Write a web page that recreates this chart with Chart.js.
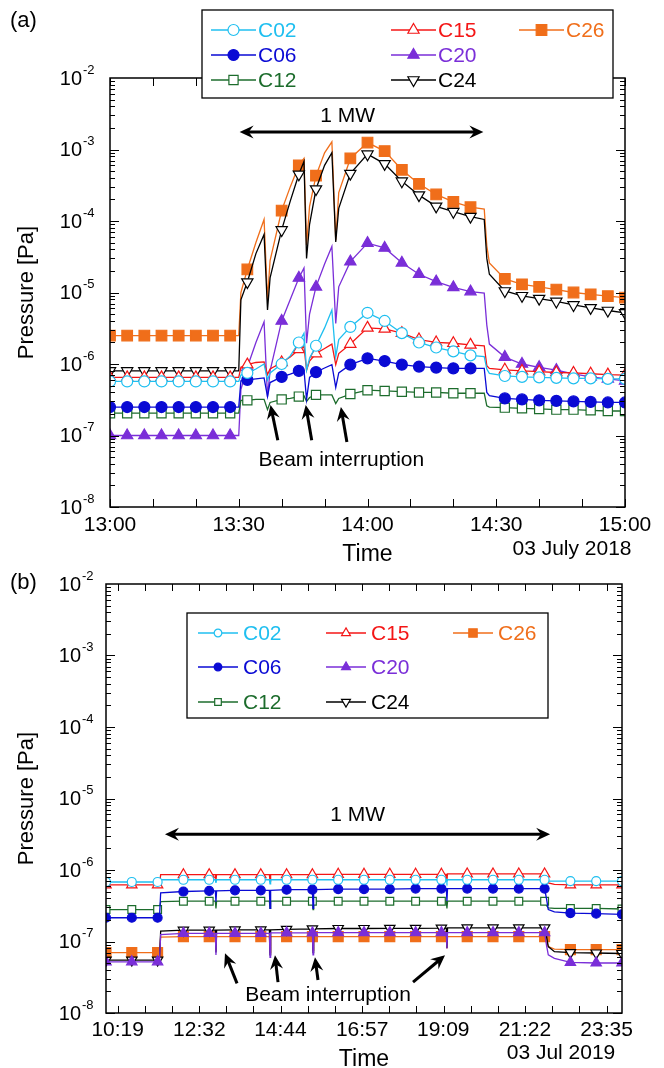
<!DOCTYPE html>
<html>
<head>
<meta charset="utf-8">
<script src="https://cdn.jsdelivr.net/npm/chart.js@4.4.1/dist/chart.umd.min.js"></script>
<style>
  html, body { margin: 0; padding: 0; background: #fff; overflow: hidden; }
  #wrap { position: relative; width: 664px; height: 1068px; }
  canvas { position: absolute; left: 0; }
  #panelA { top: 0; }
  #panelB { top: 560px; }
</style>
</head>
<body>
<div id="wrap">
  <canvas id="panelA" width="664" height="570"></canvas>
  <canvas id="panelB" width="664" height="520"></canvas>
</div>
<script>
// ---- 2018 run, time in minutes after midnight (13:00 - 15:00) ----
const timesA = [780, 784, 788, 792, 796, 800, 804, 808, 810, 810.5, 812, 814, 815.9, 816.7, 817.3,
  820, 822, 824, 825.2, 825.8, 826.5, 828, 830, 831.7, 832.6, 833.3, 836, 840, 844, 848, 852, 856,
  860, 864, 867.2, 867.8, 868.4, 872, 876, 880, 884, 888, 892, 896, 900];
const xTicksA = [780, 810, 840, 870, 900];
const xLabelsA = ['13:00', '13:30', '14:00', '14:30', '15:00'];

const c02A = [5.7e-7, 5.7e-7, 5.7e-7, 5.7e-7, 5.7e-7, 5.7e-7, 5.7e-7, 5.7e-7, 5.7e-7,
  7.0e-7, 7.5e-7, 8.5e-7, 1.0e-6, 6.0e-7, 7.5e-7, 1.0e-6, 1.3e-6, 2.0e-6, 2.7e-6, 8.2e-7, 1.2e-6,
  1.8e-6, 3.2e-6, 5.7e-6, 1.27e-6, 2.2e-6, 3.3e-6, 5.2e-6, 4.0e-6, 2.7e-6, 2.0e-6, 1.7e-6, 1.5e-6, 1.32e-6,
  1.27e-6, 8.5e-7, 7.4e-7, 6.8e-7, 6.6e-7, 6.5e-7, 6.4e-7, 6.3e-7, 6.3e-7, 6.2e-7, 6.2e-7];
const c06A = [2.5e-7, 2.5e-7, 2.5e-7, 2.5e-7, 2.5e-7, 2.5e-7, 2.5e-7, 2.5e-7, 2.5e-7,
  5.8e-7, 6.0e-7, 6.2e-7, 6.4e-7, 3.5e-7, 5.5e-7, 6.6e-7, 7.2e-7, 8.0e-7, 8.2e-7, 3.2e-7, 6.5e-7,
  7.7e-7, 8.8e-7, 9.8e-7, 4.7e-7, 7.5e-7, 9.8e-7, 1.2e-6, 1.1e-6, 9.8e-7, 9.2e-7, 8.9e-7, 8.7e-7, 8.7e-7,
  8.7e-7, 4.0e-7, 3.6e-7, 3.3e-7, 3.2e-7, 3.1e-7, 3.05e-7, 3.0e-7, 2.95e-7, 2.9e-7, 2.9e-7];
const c12A = [2.05e-7, 2.05e-7, 2.05e-7, 2.05e-7, 2.05e-7, 2.05e-7, 2.05e-7, 2.05e-7, 2.05e-7,
  3.1e-7, 3.1e-7, 3.2e-7, 3.2e-7, 2.3e-7, 2.9e-7, 3.2e-7, 3.3e-7, 3.5e-7, 3.6e-7, 3.0e-7, 3.4e-7,
  3.7e-7, 3.7e-7, 3.7e-7, 2.8e-7, 3.3e-7, 3.8e-7, 4.3e-7, 4.2e-7, 4.1e-7, 4.0e-7, 4.0e-7, 3.9e-7, 3.9e-7,
  3.9e-7, 2.6e-7, 2.5e-7, 2.45e-7, 2.4e-7, 2.35e-7, 2.3e-7, 2.3e-7, 2.25e-7, 2.2e-7, 2.2e-7];
const c15A = [6.5e-7, 6.5e-7, 6.5e-7, 6.5e-7, 6.5e-7, 6.5e-7, 6.5e-7, 6.5e-7, 6.5e-7,
  9.0e-7, 9.8e-7, 1.05e-6, 1.07e-6, 7.1e-7, 8.5e-7, 1.05e-6, 1.25e-6, 1.6e-6, 1.76e-6, 8.2e-7, 1.1e-6,
  1.4e-6, 1.65e-6, 1.9e-6, 9.8e-7, 1.4e-6, 1.9e-6, 3.2e-6, 3.1e-6, 2.7e-6, 2.2e-6, 2.0e-6, 1.95e-6, 1.85e-6,
  1.8e-6, 9.5e-7, 8.7e-7, 8.3e-7, 8.0e-7, 7.8e-7, 7.6e-7, 7.5e-7, 7.3e-7, 7.1e-7, 7.0e-7];
const c20A = [1.0e-7, 1.0e-7, 1.0e-7, 1.0e-7, 1.0e-7, 1.0e-7, 1.0e-7, 1.0e-7, 1.0e-7,
  4.4e-7, 9.0e-7, 2.0e-6, 3.9e-6, 3.5e-7, 8.0e-7, 4.0e-6, 8.0e-6, 1.6e-5, 2.2e-5, 1.95e-6, 5.0e-6,
  1.2e-5, 2.5e-5, 4.4e-5, 3.7e-6, 1.2e-5, 2.7e-5, 4.9e-5, 4.2e-5, 2.6e-5, 1.8e-5, 1.42e-5, 1.18e-5, 1.03e-5,
  9.8e-6, 3.5e-6, 1.9e-6, 1.25e-6, 1.0e-6, 9.0e-7, 8.2e-7, 7.3e-7, 6.6e-7, 6.2e-7, 5.8e-7];
const c24A = [8.0e-7, 8.0e-7, 8.0e-7, 8.0e-7, 8.0e-7, 8.0e-7, 8.0e-7, 8.0e-7, 8.0e-7,
  7.9e-6, 1.4e-5, 3.5e-5, 6.5e-5, 5.7e-6, 1.6e-5, 7.5e-5, 1.9e-4, 4.5e-4, 6.8e-4, 3.0e-5, 9.0e-5,
  2.8e-4, 6.0e-4, 9.0e-4, 5.1e-5, 1.5e-4, 4.6e-4, 8.6e-4, 6.3e-4, 3.6e-4, 2.3e-4, 1.6e-4, 1.35e-4, 1.15e-4,
  1.05e-4, 3.0e-5, 1.8e-5, 1.05e-5, 9.0e-6, 8.2e-6, 7.5e-6, 6.7e-6, 6.1e-6, 5.6e-6, 5.2e-6];
const c26A = [2.5e-6, 2.5e-6, 2.5e-6, 2.5e-6, 2.5e-6, 2.5e-6, 2.5e-6, 2.5e-6, 2.5e-6,
  1.0e-5, 2.1e-5, 5.0e-5, 1.05e-4, 8.0e-6, 2.8e-5, 1.4e-4, 3.0e-4, 6.0e-4, 7.5e-4, 4.6e-5, 1.6e-4,
  4.3e-4, 9.0e-4, 1.28e-3, 5.4e-5, 2.5e-4, 7.5e-4, 1.25e-3, 9.5e-4, 5.2e-4, 3.3e-4, 2.35e-4, 1.85e-4, 1.56e-4,
  1.47e-4, 4.5e-5, 2.6e-5, 1.55e-5, 1.3e-5, 1.2e-5, 1.1e-5, 1.0e-5, 9.4e-6, 8.9e-6, 8.5e-6];

// ---- 2019 run, time in minutes after midnight (10:00 - 24:00) ----
const timesB = [600, 642, 684, 687, 689, 726, 768, 778, 779, 780, 810, 852, 866, 867, 868, 894, 936,
  937, 938, 978, 1020, 1062, 1104, 1146, 1154, 1155, 1156, 1188, 1230, 1272, 1314, 1317, 1320, 1330,
  1356, 1398, 1440];
const xTicksB = [619, 752, 884, 1017, 1149, 1282, 1415];
const xLabelsB = ['10:19', '12:32', '14:44', '16:57', '19:09', '21:22', '23:35'];

const c02B = [6.8e-7, 6.8e-7, 6.8e-7, 6.8e-7, 7.3e-7, 7.3e-7, 7.3e-7, 7.3e-7, 6.6e-7, 7.3e-7, 7.3e-7,
  7.3e-7, 7.3e-7, 6.4e-7, 7.3e-7, 7.3e-7, 7.3e-7, 6.6e-7, 7.3e-7, 7.3e-7, 7.3e-7, 7.3e-7, 7.3e-7, 7.3e-7,
  7.3e-7, 6.8e-7, 7.3e-7, 7.3e-7, 7.3e-7, 7.3e-7, 7.3e-7, 7.2e-7, 7.0e-7, 7.0e-7, 7.0e-7, 7.0e-7, 7.0e-7];
const c06B = [2.15e-7, 2.15e-7, 2.15e-7, 2.15e-7, 4.8e-7, 5.0e-7, 5.1e-7, 5.1e-7, 3.6e-7, 5.1e-7, 5.2e-7,
  5.2e-7, 5.2e-7, 2.9e-7, 5.2e-7, 5.3e-7, 5.3e-7, 2.9e-7, 5.3e-7, 5.4e-7, 5.4e-7, 5.4e-7, 5.5e-7, 5.5e-7,
  5.5e-7, 3.7e-7, 5.5e-7, 5.5e-7, 5.5e-7, 5.5e-7, 5.5e-7, 4.0e-7, 2.8e-7, 2.6e-7, 2.5e-7, 2.45e-7, 2.4e-7];
const c12B = [2.8e-7, 2.8e-7, 2.8e-7, 2.8e-7, 3.6e-7, 3.66e-7, 3.66e-7, 3.66e-7, 2.9e-7, 3.66e-7, 3.66e-7,
  3.66e-7, 3.66e-7, 2.9e-7, 3.66e-7, 3.66e-7, 3.66e-7, 2.8e-7, 3.66e-7, 3.66e-7, 3.66e-7, 3.66e-7, 3.66e-7,
  3.66e-7, 3.66e-7, 2.9e-7, 3.66e-7, 3.66e-7, 3.66e-7, 3.66e-7, 3.66e-7, 3.2e-7, 2.95e-7, 2.9e-7, 2.9e-7,
  2.9e-7, 2.85e-7];
const c15B = [6.2e-7, 6.2e-7, 6.2e-7, 6.2e-7, 8.6e-7, 8.6e-7, 8.6e-7, 8.6e-7, 7.2e-7, 8.6e-7, 8.6e-7,
  8.6e-7, 8.6e-7, 7.0e-7, 8.6e-7, 8.6e-7, 8.6e-7, 7.5e-7, 8.7e-7, 8.7e-7, 8.7e-7, 8.7e-7, 8.7e-7, 8.7e-7,
  8.7e-7, 7.4e-7, 8.8e-7, 8.8e-7, 8.8e-7, 8.8e-7, 8.8e-7, 8.0e-7, 6.6e-7, 6.3e-7, 6.2e-7, 6.2e-7, 6.2e-7];
const c20B = [5.2e-8, 5.2e-8, 5.2e-8, 5.2e-8, 1.25e-7, 1.3e-7, 1.3e-7, 1.3e-7, 6.5e-8, 1.3e-7, 1.3e-7,
  1.3e-7, 1.3e-7, 6.0e-8, 1.32e-7, 1.32e-7, 1.32e-7, 6.5e-8, 1.33e-7, 1.33e-7, 1.33e-7, 1.33e-7, 1.33e-7,
  1.33e-7, 1.33e-7, 8.0e-8, 1.33e-7, 1.33e-7, 1.33e-7, 1.33e-7, 1.33e-7, 9.0e-8, 6.5e-8, 5.8e-8, 5.1e-8,
  5.0e-8, 5.0e-8];
const c24B = [5.5e-8, 5.5e-8, 5.5e-8, 5.5e-8, 1.4e-7, 1.44e-7, 1.44e-7, 1.44e-7, 7.0e-8, 1.44e-7, 1.45e-7,
  1.45e-7, 1.45e-7, 6.5e-8, 1.45e-7, 1.48e-7, 1.5e-7, 7.0e-8, 1.5e-7, 1.52e-7, 1.52e-7, 1.53e-7, 1.53e-7,
  1.54e-7, 1.55e-7, 8.1e-8, 1.55e-7, 1.55e-7, 1.55e-7, 1.55e-7, 1.55e-7, 1.2e-7, 8.5e-8, 7.2e-8, 7.0e-8,
  6.9e-8, 6.8e-8];
const c26B = [7.0e-8, 7.0e-8, 7.0e-8, 7.0e-8, 1.15e-7, 1.17e-7, 1.17e-7, 1.17e-7, 7.5e-8, 1.17e-7, 1.17e-7,
  1.17e-7, 1.17e-7, 7.0e-8, 1.17e-7, 1.17e-7, 1.17e-7, 7.5e-8, 1.17e-7, 1.17e-7, 1.17e-7, 1.17e-7, 1.17e-7,
  1.17e-7, 1.17e-7, 8.0e-8, 1.17e-7, 1.17e-7, 1.17e-7, 1.17e-7, 1.17e-7, 1.0e-7, 8.5e-8, 7.8e-8, 7.7e-8,
  7.7e-8, 7.7e-8];

const seriesNames = ['C02', 'C06', 'C12', 'C15', 'C20', 'C24', 'C26'];
const yDecades = [-8, -7, -6, -5, -4, -3, -2];

const FONT = "'Liberation Sans', Arial, Helvetica, sans-serif";
Chart.defaults.font.family = FONT;
Chart.defaults.color = '#000';

// marker look per gauge: [radius in top panel, radius in bottom panel]
const styles = {
  C02: { color: '#1fbff0', shape: 'circle',   filled: false, rot: 0,   r: [5.5, 4.5] },
  C06: { color: '#0a0ad4', shape: 'circle',   filled: true,  rot: 0,   r: [5.5, 4.5] },
  C12: { color: '#1c6c2c', shape: 'rect',     filled: false, rot: 0,   r: [6.5, 5.5] },
  C15: { color: '#f41616', shape: 'triangle', filled: false, rot: 0,   r: [6.5, 6] },
  C20: { color: '#7a2ed8', shape: 'triangle', filled: true,  rot: 0,   r: [6.5, 6] },
  C24: { color: '#000000', shape: 'triangle', filled: false, rot: 180, r: [6.5, 6] },
  C26: { color: '#f06e1a', shape: 'rect',     filled: true,  rot: 0,   r: [7.5, 7] }
};

function makeDatasets(times, columns, panel, origin, every) {
  return seriesNames.map((name, i) => {
    const st = styles[name];
    return {
      label: name,
      data: times.map((t, k) => ({ x: t, y: columns[i][k] })),
      borderColor: st.color,
      borderWidth: 1.3,
      pointStyle: st.shape,
      pointRotation: st.rot,
      pointBorderColor: st.color,
      pointBackgroundColor: st.filled ? st.color : '#ffffff',
      pointBorderWidth: 1.2,
      pointRadius: ctx => {
        const t = times[ctx.dataIndex];
        return Number.isInteger(t) && (t - origin) % every === 0 ? st.r[panel] : 0;
      },
      tension: 0
    };
  });
}

// small marker for the legend box
function drawMarker(ctx, st, x, y, r) {
  ctx.save();
  ctx.translate(x, y);
  ctx.rotate(st.rot * Math.PI / 180);
  ctx.beginPath();
  if (st.shape === 'circle') {
    ctx.arc(0, 0, r, 0, Math.PI * 2);
  } else if (st.shape === 'rect') {
    const s = r * Math.SQRT1_2;
    ctx.rect(-s, -s, 2 * s, 2 * s);
  } else {
    ctx.moveTo(0, -r);
    ctx.lineTo(r * 0.866, r * 0.5);
    ctx.lineTo(-r * 0.866, r * 0.5);
    ctx.closePath();
  }
  ctx.fillStyle = st.filled ? st.color : '#fff';
  ctx.strokeStyle = st.color;
  ctx.lineWidth = 1.2;
  ctx.fill();
  ctx.stroke();
  ctx.restore();
}

function arrowHead(ctx, x, y, ang, len, half) {
  ctx.save();
  ctx.translate(x, y);
  ctx.rotate(ang);
  ctx.beginPath();
  ctx.moveTo(0, 0);
  ctx.lineTo(-len, -half);
  ctx.lineTo(-len * 0.65, 0);
  ctx.lineTo(-len, half);
  ctx.closePath();
  ctx.fill();
  ctx.restore();
}

function arrow(ctx, x0, y0, x1, y1, both) {
  const ang = Math.atan2(y1 - y0, x1 - x0);
  const cut = 8;
  ctx.lineWidth = 3;
  ctx.beginPath();
  ctx.moveTo(both ? x0 + Math.cos(ang) * cut : x0, both ? y0 + Math.sin(ang) * cut : y0);
  ctx.lineTo(x1 - Math.cos(ang) * cut, y1 - Math.sin(ang) * cut);
  ctx.stroke();
  arrowHead(ctx, x1, y1, ang, 14, 6.5);
  if (both) arrowHead(ctx, x0, y0, ang + Math.PI, 14, 6.5);
}

// frame, inward ticks, superscript decade labels and annotations
const decor = {
  id: 'decor',
  afterDatasetsDraw(chart, args, o) {
    const { ctx, chartArea: a } = chart;
    const xs = chart.scales.x, ys = chart.scales.y;
    const X = v => xs.getPixelForValue(v), Y = v => ys.getPixelForValue(v);
    ctx.save();
    ctx.strokeStyle = '#000';
    ctx.fillStyle = '#000';

    ctx.lineWidth = 1;
    ctx.beginPath();
    const step = o.xMinor.step;
    let t = o.xMinor.anchor - Math.floor((o.xMinor.anchor - xs.min) / step) * step;
    for (; t <= xs.max + 1e-6; t += step) {
      const px = Math.round(X(t)) + 0.5;
      ctx.moveTo(px, a.bottom); ctx.lineTo(px, a.bottom - o.xTickLen);
      ctx.moveTo(px, a.top); ctx.lineTo(px, a.top + o.xTickLen);
    }
    for (let e = yDecades[0]; e < yDecades[yDecades.length - 1]; e++) {
      for (let m = 1; m < 10; m++) {
        const py = Math.round(Y(m * Math.pow(10, e))) + 0.5;
        const len = m === 1 ? 9 : 5;
        ctx.moveTo(a.left, py); ctx.lineTo(a.left + len, py);
        ctx.moveTo(a.right, py); ctx.lineTo(a.right - len, py);
      }
    }
    ctx.stroke();
    ctx.lineWidth = 1.5;
    ctx.strokeRect(a.left, a.top, a.right - a.left, a.bottom - a.top);

    ctx.textBaseline = 'middle';
    yDecades.forEach(e => {
      const py = Y(Math.pow(10, e));
      ctx.font = '20px ' + FONT;
      ctx.textAlign = 'right';
      ctx.fillText('10', a.left - o.yLabelGap, py + 1);
      ctx.font = '13px ' + FONT;
      ctx.textAlign = 'left';
      ctx.fillText(String(e), a.left - o.yLabelGap + 1, py - 8);
    });

    // beam-on span
    ctx.font = '21px ' + FONT;
    ctx.textAlign = 'center';
    ctx.fillText(o.mw.text, X(o.mw.tt), Y(o.mw.tp));
    arrow(ctx, X(o.mw.t0), Y(o.mw.p), X(o.mw.t1), Y(o.mw.p), true);

    // beam interruptions
    ctx.fillText(o.beam.text, X(o.beam.tt), Y(o.beam.tp));
    o.beam.arrows.forEach(([ta, pa, tb, pb]) => arrow(ctx, X(ta), Y(pa), X(tb), Y(pb), false));

    ctx.font = '22px ' + FONT;
    ctx.textAlign = 'left';
    ctx.fillText(o.panel.text, o.panel.x, o.panel.y);
    ctx.font = '21px ' + FONT;
    ctx.textAlign = 'center';
    ctx.fillText(o.date.text, o.date.x, o.date.y);
    ctx.restore();
  },
  afterDraw(chart, args, o) {
    const L = o.legend, ctx = chart.ctx;
    ctx.save();
    ctx.fillStyle = '#fff';
    ctx.fillRect(L.box[0], L.box[1], L.box[2], L.box[3]);
    ctx.strokeStyle = '#000';
    ctx.lineWidth = 1.3;
    ctx.strokeRect(L.box[0], L.box[1], L.box[2], L.box[3]);
    ctx.font = '21px ' + FONT;
    ctx.textBaseline = 'middle';
    ctx.textAlign = 'left';
    chart.data.datasets.forEach((ds, i) => {
      const st = styles[ds.label];
      const x0 = L.cols[Math.floor(i / 3)], y0 = L.rows[i % 3];
      ctx.strokeStyle = st.color;
      ctx.lineWidth = 1.3;
      ctx.beginPath();
      ctx.moveTo(x0, y0); ctx.lineTo(x0 + L.line, y0);
      ctx.stroke();
      drawMarker(ctx, st, x0 + L.line / 2, y0, st.r[L.panel] * L.mscale);
      ctx.fillStyle = st.color;
      ctx.fillText(ds.label, x0 + L.line + L.gap, y0 + 1);
    });
    ctx.restore();
  }
};

function makeChart(id, cfg) {
  return new Chart(document.getElementById(id), {
    type: 'line',
    data: { datasets: cfg.datasets },
    options: {
      responsive: false,
      animation: false,
      devicePixelRatio: 1,
      events: [],
      layout: { padding: cfg.padding },
      plugins: { legend: { display: false }, tooltip: { enabled: false }, decor: cfg.decor },
      scales: {
        x: {
          type: 'linear', min: cfg.xMin, max: cfg.xMax,
          grid: { display: false, drawTicks: false }, border: { display: false },
          afterBuildTicks: s => { s.ticks = cfg.xTicks.map(v => ({ value: v })); },
          afterFit: s => { s.height = cfg.xHeight; },
          ticks: { autoSkip: false, maxRotation: 0, padding: cfg.tickPad, font: { size: 21 },
                   callback: (v, i) => cfg.xLabels[i] },
          title: { display: true, text: 'Time', font: { size: 23 }, padding: { top: 0, bottom: cfg.titlePad } }
        },
        y: {
          type: 'logarithmic', min: 1e-8, max: 1e-2,
          grid: { display: false, drawTicks: false }, border: { display: false },
          ticks: { display: false },
          afterFit: s => { s.width = cfg.yWidth; },
          title: { display: true, text: 'Pressure [Pa]', font: { size: 22 }, padding: { top: 14, bottom: 0 } }
        }
      }
    },
    plugins: [decor]
  });
}

makeChart('panelA', {
  datasets: makeDatasets(timesA, [c02A, c06A, c12A, c15A, c20A, c24A, c26A], 0, 780, 4),
  padding: { left: 0, top: 78, right: 39, bottom: 0 },
  xMin: 780, xMax: 900, xTicks: xTicksA, xLabels: xLabelsA,
  xHeight: 63, yWidth: 110, tickPad: 6, titlePad: 2,
  decor: {
    xMinor: { anchor: 780, step: 10 }, xTickLen: 8, yLabelGap: 28,
    mw: { text: '1 MW', t0: 810.2, t1: 867, p: 1.76e-3, tt: 835.4, tp: 2.94e-3 },
    beam: { text: 'Beam interruption', tt: 833.9, tp: 4.5e-8,
            arrows: [[819.1, 8.6e-8, 817.4, 2.67e-7], [827.0, 8.6e-8, 825.6, 2.67e-7], [835.2, 8.1e-8, 833.8, 2.5e-7]] },
    panel: { text: '(a)', x: 10, y: 21 },
    date: { text: '03 July 2018', x: 572, y: 549 },
    legend: { panel: 0, box: [202, 10, 411, 88], rows: [30, 55, 80], cols: [211, 391, 519], line: 45, gap: 2, mscale: 1 }
  }
});

makeChart('panelB', {
  datasets: makeDatasets(timesB, [c02B, c06B, c12B, c15B, c20B, c24B, c26B], 1, 600, 42),
  padding: { left: 0, top: 24, right: 42, bottom: 0 },
  xMin: 600, xMax: 1440, xTicks: xTicksB, xLabels: xLabelsB,
  xHeight: 67, yWidth: 106, tickPad: 5, titlePad: 7,
  decor: {
    xMinor: { anchor: 619, step: (1415 - 619) / 18 }, xTickLen: 7, yLabelGap: 25,
    mw: { text: '1 MW', t0: 696, t1: 1323, p: 3.16e-6, tt: 1009.5, tp: 5.85e-6 },
    beam: { text: 'Beam interruption', tt: 961.4, tp: 1.78e-8,
            arrows: [[813.3, 2.6e-8, 793.7, 6.85e-8], [880, 2.7e-8, 875.1, 6.4e-8],
                     [945.1, 2.9e-8, 940.2, 6.0e-8], [1099.8, 2.7e-8, 1151.9, 6.4e-8]] },
    panel: { text: '(b)', x: 10, y: 23 },
    date: { text: '03 Jul 2019', x: 561, y: 493 },
    legend: { panel: 1, box: [187, 53, 361, 105], rows: [73, 107, 142], cols: [198, 326, 453], line: 40, gap: 5, mscale: 0.85 }
  }
});
</script>
</body>
</html>
